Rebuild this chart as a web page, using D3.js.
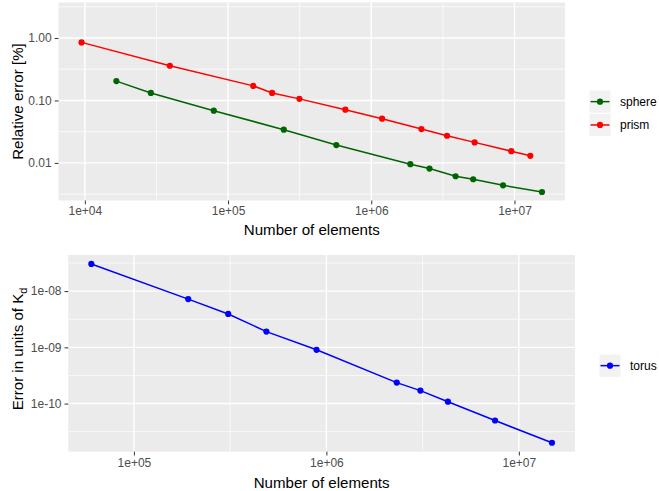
<!DOCTYPE html>
<html lang='en'>
<head>
<meta charset='UTF-8'>
<title>Convergence</title>
<style>
  body { margin: 0; background: #fff; }
  text { font-family: 'Liberation Sans', Arial, sans-serif; }
</style>
</head>
<body>
<svg></svg>
<script src='https://d3js.org/d3.v7.min.js'></script>
<script>
// top chart: relative error (%) vs number of elements
const sphereN = [16600, 28900, 79500, 245000, 570000, 1875000, 2550000, 3880000, 5150000, 8320000, 15560000]
const sphereErr = [0.204, 0.132, 0.0686, 0.0340, 0.0193, 0.00953, 0.00812, 0.00611, 0.00547, 0.00438, 0.00342]
const prismN = [9480, 39200, 150000, 203000, 315000, 659000, 1190000, 2240000, 3380000, 5270000, 9500000, 12900000]
const prismErr = [0.85, 0.359, 0.171, 0.132, 0.106, 0.0711, 0.0510, 0.0348, 0.0272, 0.0213, 0.0154, 0.0130]
const topYLimits = [0.0025, 3.7]
const topXTicks = [1e4, 1e5, 1e6, 1e7]
const topXLabels = ['1e+04', '1e+05', '1e+06', '1e+07']
const topYTicks = [1, 0.1, 0.01]
const topYLabels = ['1.00', '0.10', '0.01']

// bottom chart: error in units of K_d
const torusN = [60100, 191500, 309000, 488000, 889000, 2320000, 3080000, 4280000, 7520000, 14860000]
const torusErr = [3.04e-8, 7.21e-9, 3.92e-9, 1.905e-9, 9.04e-10, 2.36e-10, 1.70e-10, 1.08e-10, 5.0e-11, 2.01e-11]
const bottomXTicks = [1e5, 1e6, 1e7]
const bottomXLabels = ['1e+05', '1e+06', '1e+07']
const bottomYTicks = [1e-8, 1e-9, 1e-10]
const bottomYLabels = ['1e-08', '1e-09', '1e-10']

const seriesNames = ['sphere', 'prism', 'torus']
const seriesColors = ['#006400', '#ff0000', '#0000ff']

const width = 659
const height = 491

const svg = d3.select('svg')
    .attr('width', width)
    .attr('height', height)

// ggplot-style 5% expansion in log space
function logExtent(values) {
    const [lo, hi] = d3.extent(values).map(Math.log10)
    const pad = (hi - lo) * 0.05
    return [Math.pow(10, lo - pad), Math.pow(10, hi + pad)]
}

function minors(majors, domain) {
    const out = []
    const [lo, hi] = d3.extent(domain)
    majors.forEach(m => {
        [m * Math.sqrt(10), m / Math.sqrt(10)].forEach(v => {
            if (v >= lo && v <= hi && !out.some(o => Math.abs(o / v - 1) < 1e-6)) out.push(v)
        })
    })
    return out
}

function panel(opts) {
    const { left, right, top, bottom } = opts.box
    const x = d3.scaleLog().domain(opts.xDomain).range([left, right])
    const y = d3.scaleLog().domain(opts.yDomain).range([bottom, top])
    const g = svg.append('g')

    g.append('rect')
        .attr('x', left).attr('y', top)
        .attr('width', right - left).attr('height', bottom - top)
        .attr('fill', '#ebebeb')

    // minor grid
    g.selectAll(null).data(minors(opts.xTicks, opts.xDomain)).enter().append('line')
        .attr('x1', d => x(d)).attr('x2', d => x(d))
        .attr('y1', top).attr('y2', bottom)
        .attr('stroke', '#fff').attr('stroke-width', 0.7)
    g.selectAll(null).data(minors(opts.yTicks, opts.yDomain)).enter().append('line')
        .attr('y1', d => y(d)).attr('y2', d => y(d))
        .attr('x1', left).attr('x2', right)
        .attr('stroke', '#fff').attr('stroke-width', 0.7)

    // major grid
    g.selectAll(null).data(opts.xTicks).enter().append('line')
        .attr('x1', d => x(d)).attr('x2', d => x(d))
        .attr('y1', top).attr('y2', bottom)
        .attr('stroke', '#fff').attr('stroke-width', 1.4)
    g.selectAll(null).data(opts.yTicks).enter().append('line')
        .attr('y1', d => y(d)).attr('y2', d => y(d))
        .attr('x1', left).attr('x2', right)
        .attr('stroke', '#fff').attr('stroke-width', 1.4)

    // axes
    const xAxis = g.append('g')
        .attr('transform', `translate(0,${bottom})`)
        .call(d3.axisBottom(x).tickValues(opts.xTicks)
            .tickFormat((d, i) => opts.xLabels[i]).tickSize(3.8).tickPadding(2.5))
    const yAxis = g.append('g')
        .attr('transform', `translate(${left},0)`)
        .call(d3.axisLeft(y).tickValues(opts.yTicks)
            .tickFormat((d, i) => opts.yLabels[i]).tickSize(3.8).tickPadding(3))
    ;[xAxis, yAxis].forEach(a => {
        a.select('.domain').remove()
        a.selectAll('.tick line').attr('stroke', '#333')
        a.selectAll('.tick text').attr('fill', '#4d4d4d')
            .attr('font-size', 12).attr('font-family', "'Liberation Sans', Arial, sans-serif")
    })

    // series
    const line = d3.line().x(d => x(d[0])).y(d => y(d[1]))
    opts.series.forEach(s => {
        const pts = d3.zip(s.n, s.v)
        g.append('path').datum(pts)
            .attr('d', line)
            .attr('fill', 'none')
            .attr('stroke', s.color)
            .attr('stroke-width', 1.5)
        g.selectAll(null).data(pts).enter().append('circle')
            .attr('cx', d => x(d[0])).attr('cy', d => y(d[1]))
            .attr('r', 3.1)
            .attr('fill', s.color)
    })

    // axis titles
    g.append('text')
        .attr('x', (left + right) / 2).attr('y', opts.xTitleY)
        .attr('text-anchor', 'middle')
        .attr('font-size', 15.1)
        .text('Number of elements')
    const yt = g.append('text')
        .attr('transform', `translate(${opts.yTitleX},${opts.yTitleMid}) rotate(-90)`)
        .attr('text-anchor', 'middle')
        .attr('font-size', 15.1)
    opts.yTitle(yt)

    // legend
    const key = 22
    const lg = g.selectAll(null).data(opts.series).enter().append('g')
        .attr('transform', (d, i) => `translate(${opts.legend.x},${opts.legend.y + i * 23.3})`)
    lg.append('rect')
        .attr('width', key).attr('height', 23.3)
        .attr('fill', '#f2f2f2').attr('stroke', '#fff').attr('stroke-width', 1)
    lg.append('line')
        .attr('x1', 1.5).attr('x2', key - 1.5)
        .attr('y1', 11.65).attr('y2', 11.65)
        .attr('stroke', d => d.color).attr('stroke-width', 1.5)
    lg.append('circle')
        .attr('cx', key / 2).attr('cy', 11.65).attr('r', 3.1)
        .attr('fill', d => d.color)
    lg.append('text')
        .attr('x', key + 9).attr('y', 16)
        .attr('font-size', 12)
        .text(d => d.name)
}

panel({
    box: { left: 58.5, right: 565, top: 2.5, bottom: 200.5 },
    xDomain: logExtent(sphereN.concat(prismN)),
    yDomain: topYLimits,
    xTicks: topXTicks, xLabels: topXLabels,
    yTicks: topYTicks, yLabels: topYLabels,
    series: [
        { name: seriesNames[0], color: seriesColors[0], n: sphereN, v: sphereErr },
        { name: seriesNames[1], color: seriesColors[1], n: prismN, v: prismErr }
    ],
    xTitleY: 235,
    yTitleX: 22.5, yTitleMid: 101.5,
    yTitle: t => t.text('Relative error [%]'),
    legend: { x: 589, y: 90 }
})

panel({
    box: { left: 68.3, right: 575, top: 255, bottom: 451.7 },
    xDomain: logExtent(torusN),
    yDomain: logExtent(torusErr),
    xTicks: bottomXTicks, xLabels: bottomXLabels,
    yTicks: bottomYTicks, yLabels: bottomYLabels,
    series: [
        { name: seriesNames[2], color: seriesColors[2], n: torusN, v: torusErr }
    ],
    xTitleY: 488,
    yTitleX: 22.5, yTitleMid: 349,
    yTitle: t => {
        t.append('tspan').text('Error in units of K')
        t.append('tspan').attr('font-size', 11).attr('dy', 4).text('d')
    },
    legend: { x: 599, y: 354 }
})
</script>
</body>
</html>
